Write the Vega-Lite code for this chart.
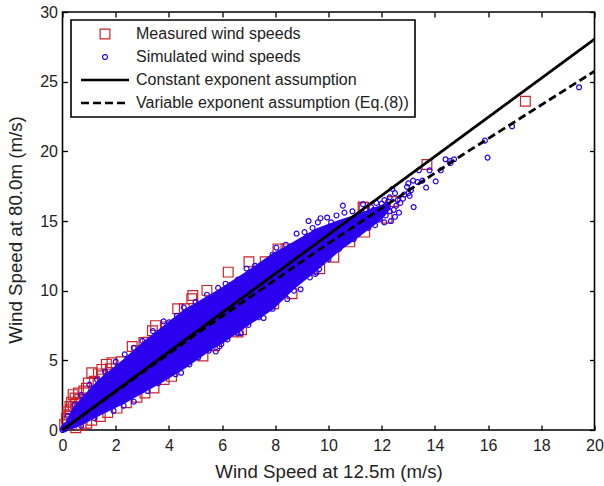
{
"$schema":"https://vega.github.io/schema/vega-lite/v6.json",
"width":532,"height":418,
"autosize":{"type":"none"},
"padding":{"left":62.5,"top":12,"right":9.5,"bottom":56},
"background":"white",
"view":{"stroke":"black","strokeWidth":1.6},
"config":{"font":"Liberation Sans","legend":{"strokeWidth":1.6}},
"datasets":{
"measured":[
{"x":17.4,"y":23.6},{"x":13.7,"y":19.05},{"x":11.34,"y":15.96},{"x":11.3,"y":16},{"x":11.36,"y":14.2},{"x":10.8,"y":13.5},{"x":12.2,"y":15.2},{"x":12.4,"y":16.4},
{"x":6.23,"y":11.33},{"x":7.01,"y":12.08},{"x":7.62,"y":12.08},{"x":5.43,"y":10.02},{"x":4.9,"y":9.66},{"x":4.86,"y":9.42},{"x":4.33,"y":8.7},{"x":4.58,"y":8.7},{"x":3.5,"y":7.49},{"x":3.38,"y":7.13},{"x":2.62,"y":5.99},{"x":3.06,"y":6.28},{"x":1.86,"y":4.83},{"x":1.65,"y":4.71},{"x":1.1,"y":4.11},{"x":1.35,"y":4.03},{"x":1.48,"y":4.35},{"x":0.97,"y":3.38},{"x":0.4,"y":2.54},{"x":0.6,"y":2.66},{"x":0.47,"y":2.3},{"x":0.28,"y":1.69},{"x":0.34,"y":2.0},{"x":0.15,"y":0.85},{"x":0.2,"y":1.3},{"x":0.08,"y":0.4},{"x":0.25,"y":1.1},{"x":0.3,"y":1.45},{"x":0.4,"y":1.7},{"x":0.5,"y":1.9},{"x":0.65,"y":2.2},{"x":0.8,"y":2.8},{"x":0.9,"y":3.0},{"x":1.2,"y":3.5},{"x":1.5,"y":3.9},{"x":1.8,"y":4.4},{"x":2.2,"y":4.9},{"x":2.8,"y":5.7},{"x":3.2,"y":6.3},{"x":3.9,"y":7.4},
{"x":8.17,"y":12.3},{"x":9.4,"y":13.75},{"x":8.1,"y":13.0},{"x":8.4,"y":13.0},
{"x":7.94,"y":9.06},{"x":8.63,"y":9.78},{"x":6.73,"y":7.2},{"x":5.28,"y":5.31},{"x":5.72,"y":6.04},{"x":3.44,"y":3.02},{"x":3.82,"y":3.62},{"x":2.05,"y":1.57},{"x":0.91,"y":0.48},{"x":1.42,"y":0.97},{"x":2.8,"y":2.35},{"x":0.5,"y":0.16},{"x":9.67,"y":11.58},{"x":6.6,"y":7.03},{"x":10.2,"y":12.4},{"x":0.7,"y":0.32},{"x":1.1,"y":0.7},{"x":1.7,"y":1.25},{"x":2.4,"y":1.95},{"x":3.1,"y":2.65},{"x":4.1,"y":3.85}
],
"simulated":[
{"x":19.42,"y":24.6},{"x":16.9,"y":21.8},{"x":15.88,"y":20.77},{"x":15.98,"y":19.55},{"x":14.72,"y":19.43},{"x":14.4,"y":19.43},{"x":14.56,"y":19.3},{"x":14.58,"y":19.15},{"x":14.22,"y":18.64},{"x":14.03,"y":17.85},{"x":13.8,"y":18.64},{"x":13.4,"y":18.64},{"x":13.53,"y":17.9},{"x":13.18,"y":17.9},{"x":13.35,"y":17.8},{"x":13.67,"y":17.4},{"x":13.2,"y":16},{"x":10.54,"y":16.1},{"x":9.25,"y":15},{"x":12.4,"y":17.3},{"x":12.5,"y":17},
{"x":13.0,"y":17.7},{"x":12.95,"y":17.45},{"x":13.1,"y":17.2},{"x":13.0,"y":17.0},{"x":12.85,"y":16.9},{"x":12.8,"y":16.6},{"x":13.05,"y":16.8},{"x":12.6,"y":16.5},{"x":12.3,"y":16.7},{"x":12.1,"y":16.5},{"x":11.8,"y":16.3},{"x":11.3,"y":16.2},{"x":11.7,"y":15.8},{"x":12.3,"y":15.7},{"x":12.5,"y":15.3},{"x":12.35,"y":15.0},{"x":11.9,"y":15.1},{"x":11.6,"y":14.9},{"x":11.3,"y":14.6},{"x":11.1,"y":14.05},{"x":11.5,"y":14.5},{"x":10.9,"y":15.7},{"x":10.6,"y":15.6},{"x":10.3,"y":15.4},{"x":9.95,"y":15.25},{"x":9.7,"y":15.2},{"x":9.6,"y":14.9},{"x":9.4,"y":14.5},{"x":10.1,"y":14.9},
{"x":11.7,"y":15.3},{"x":11.9,"y":15.6},{"x":12.0,"y":15.9},{"x":12.15,"y":15.4},{"x":12.2,"y":16.1},{"x":12.45,"y":15.8},{"x":12.55,"y":16.1},{"x":12.65,"y":15.6},{"x":12.7,"y":16.3},{"x":12.1,"y":14.9},{"x":11.75,"y":14.7},{"x":11.5,"y":15.5},{"x":11.4,"y":15.8},{"x":11.2,"y":15.4},{"x":12.25,"y":16.4},{"x":12.0,"y":16.25},{"x":11.6,"y":16.0},{"x":10.95,"y":15.2},{"x":11.15,"y":14.9},
{"x":8.04,"y":13.09},{"x":8.4,"y":13.3},{"x":8.8,"y":14.1},{"x":9.1,"y":14.2},{"x":7.24,"y":11.79},{"x":6.92,"y":11.59},{"x":6.6,"y":10.8},{"x":6.13,"y":10.5},{"x":5.85,"y":10.2},{"x":5.43,"y":9.71},{"x":4.56,"y":8.8},{"x":3.8,"y":7.8},{"x":4,"y":7.73},{"x":2.68,"y":5.9},{"x":2.34,"y":5.43},{"x":1.01,"y":3.26},{"x":7.6,"y":12.0},{"x":7.9,"y":12.6},{"x":7.1,"y":11.2},{"x":6.3,"y":10.4},{"x":5.0,"y":9.2},{"x":4.3,"y":8.2},{"x":3.4,"y":7.1},{"x":3.0,"y":6.4},{"x":2.0,"y":4.9},{"x":1.6,"y":4.2},{"x":1.3,"y":3.6},{"x":0.7,"y":2.5},{"x":0.45,"y":1.8},{"x":0.2,"y":1.0},
{"x":5.76,"y":5.63},{"x":5.97,"y":6.16},{"x":5.9,"y":6.0},{"x":7.56,"y":8.04},{"x":7.37,"y":8.09},{"x":6.99,"y":7.54},{"x":6.58,"y":6.93},{"x":6.7,"y":6.95},{"x":4.77,"y":4.71},{"x":4.46,"y":4.11},{"x":4.25,"y":4.0},{"x":2.68,"y":2.03},{"x":1.92,"y":1.38},{"x":3.2,"y":2.8},{"x":3.6,"y":3.35},{"x":5.1,"y":5.2},{"x":5.5,"y":5.7},{"x":6.2,"y":6.5},{"x":7.9,"y":8.7},{"x":8.45,"y":9.4},{"x":8.95,"y":10.1},{"x":8.7,"y":10.0},{"x":9.3,"y":10.95},{"x":9.65,"y":11.55},{"x":9.55,"y":11.3},{"x":9.5,"y":11.2},{"x":10.0,"y":12.25},{"x":10.4,"y":13.0},{"x":10.95,"y":13.7},{"x":1.2,"y":0.85},{"x":0.7,"y":0.3},{"x":2.3,"y":1.75},
{"x":0,"y":0},{"x":0.03,"y":0.1},{"x":0.08,"y":0.05},{"x":0.05,"y":0.2},{"x":0.1,"y":0.3}
],
"core":[
{"x":0,"lo":0,"hi":0},{"x":0.4,"lo":0.15,"hi":1.5},{"x":0.8,"lo":0.5,"hi":2.4},{"x":1.4,"lo":1.1,"hi":3.6},{"x":2.3,"lo":1.95,"hi":5.0},{"x":3.06,"lo":2.75,"hi":6.3},{"x":3.8,"lo":3.55,"hi":7.4},{"x":4.6,"lo":4.5,"hi":8.6},{"x":5.5,"lo":5.7,"hi":9.6},{"x":6.1,"lo":6.4,"hi":10.3},{"x":7.0,"lo":7.6,"hi":11.4},{"x":7.9,"lo":8.7,"hi":12.6},{"x":8.65,"lo":10.1,"hi":13.4},{"x":9.55,"lo":11.5,"hi":14.4},{"x":10.4,"lo":12.9,"hi":15.0},{"x":11.05,"lo":13.8,"hi":15.4},{"x":11.6,"lo":14.6,"hi":15.8},{"x":12.0,"lo":15.2,"hi":16.1},{"x":12.3,"lo":15.9,"hi":16.3}
],
"curves":[
{"x":0,"y":0,"s":"Constant exponent assumption"},{"x":20,"y":28.05,"s":"Constant exponent assumption"},
{"x":0,"y":0,"s":"Variable exponent assumption (Eq.(8))"},{"x":2,"y":2.75,"s":"Variable exponent assumption (Eq.(8))"},{"x":5,"y":6.85,"s":"Variable exponent assumption (Eq.(8))"},{"x":10,"y":13.4,"s":"Variable exponent assumption (Eq.(8))"},{"x":15,"y":19.7,"s":"Variable exponent assumption (Eq.(8))"},{"x":20,"y":25.75,"s":"Variable exponent assumption (Eq.(8))"}
]
},
"layer":[
{"data":{"name":"measured"},
 "transform":[{"calculate":"'Measured wind speeds'","as":"s"}],
 "mark":{"type":"point","filled":false,"opacity":1},
 "encoding":{
  "x":{"field":"x","type":"quantitative","scale":{"domain":[0,20],"nice":false},"axis":{"orient":"bottom","values":[0,2,4,6,8,10,12,14,16,18,20],"tickSize":-5,"tickColor":"black","tickWidth":1.3,"domain":false,"grid":false,"labelFlush":false,"labelFontSize":16,"labelColor":"#222","labelPadding":12,"title":"Wind Speed at 12.5m (m/s)","titleFontSize":18.7,"titleFontWeight":"normal","titleColor":"#222","titlePadding":9}},
  "y":{"field":"y","type":"quantitative","scale":{"domain":[0,30],"nice":false},"axis":{"orient":"left","values":[0,5,10,15,20,25,30],"tickSize":-5,"tickColor":"black","tickWidth":1.3,"domain":false,"grid":false,"labelFlush":false,"labelFontSize":16,"labelColor":"#222","labelPadding":10,"title":"Wind Speed at 80.0m (m/s)","titleFontSize":18.7,"titleFontWeight":"normal","titleColor":"#222","titlePadding":14,"titleY":217.5}},
  "color":{"field":"s","type":"nominal","scale":{"domain":["Measured wind speeds","Simulated wind speeds","Constant exponent assumption","Variable exponent assumption (Eq.(8))"],"range":["#cc2229","#2a00ee","black","black"]},
   "legend":{"title":null,"orient":"none","legendX":8.5,"legendY":8,"fillColor":"white","strokeColor":"black","padding":6,"labelFontSize":16,"labelColor":"#222","rowPadding":7,"symbolOffset":20,"labelOffset":23,"labelLimit":320,"symbolFillColor":"transparent"}},
  "shape":{"field":"s","type":"nominal","scale":{"domain":["Measured wind speeds","Simulated wind speeds","Constant exponent assumption","Variable exponent assumption (Eq.(8))"],"range":["square","circle","M-4.8,0H4.8","M-4.8,0H4.8"]},"legend":{"title":null}},
  "size":{"field":"s","type":"nominal","scale":{"type":"ordinal","domain":["Measured wind speeds","Simulated wind speeds","Constant exponent assumption","Variable exponent assumption (Eq.(8))"],"range":[95,24,100,100]},"legend":{"title":null}},
  "strokeWidth":{"field":"s","type":"nominal","scale":{"type":"ordinal","domain":["Measured wind speeds","Simulated wind speeds","Constant exponent assumption","Variable exponent assumption (Eq.(8))"],"range":[1.2,1.2,2.4,2.4]},"legend":{"title":null}}
 }},
{"data":{"name":"core"},
 "mark":{"type":"area","color":"#2a00ee","stroke":"#2a00ee","strokeWidth":2},
 "encoding":{"x":{"field":"x","type":"quantitative","axis":null},"y":{"field":"lo","type":"quantitative","axis":null},"y2":{"field":"hi"}}},
{"data":{"name":"simulated"},
 "transform":[{"calculate":"'Simulated wind speeds'","as":"s"}],
 "mark":{"type":"point","filled":false,"opacity":1,"color":"#2a00ee","size":24,"strokeWidth":1.2,"shape":"circle"},
 "encoding":{"x":{"field":"x","type":"quantitative","axis":null},"y":{"field":"y","type":"quantitative","axis":null}}},
{"data":{"name":"curves"},
 "mark":{"type":"line","strokeWidth":2.8},
 "encoding":{
  "x":{"field":"x","type":"quantitative","axis":{"orient":"top","values":[0,2,4,6,8,10,12,14,16,18,20],"tickSize":-5,"tickColor":"black","tickWidth":1.3,"domain":false,"labels":false,"grid":false,"title":null}},
  "y":{"field":"y","type":"quantitative","axis":{"orient":"right","values":[0,5,10,15,20,25,30],"tickSize":-5,"tickColor":"black","tickWidth":1.3,"domain":false,"labels":false,"grid":false,"title":null}},
  "color":{"field":"s","type":"nominal"},
  "strokeDash":{"field":"s","type":"nominal","scale":{"domain":["Measured wind speeds","Simulated wind speeds","Constant exponent assumption","Variable exponent assumption (Eq.(8))"],"range":[[1,0],[1,0],[1,0],[8,4]]},"legend":{"title":null}}
 }}
],
"resolve":{"axis":{"x":"independent","y":"independent"}}
}
